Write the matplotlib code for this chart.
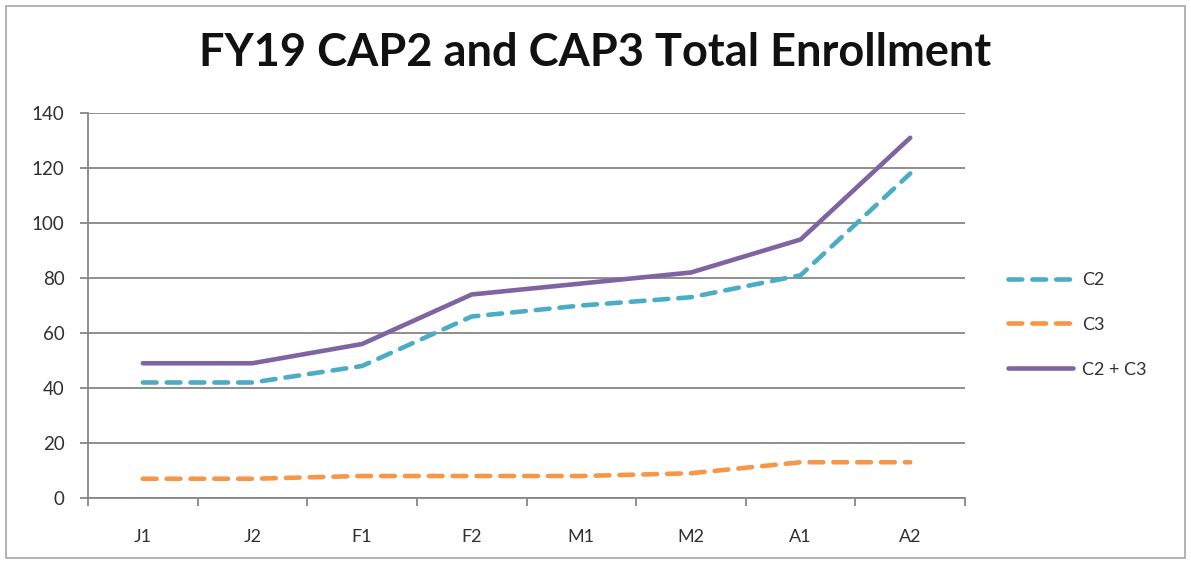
import matplotlib
matplotlib.use("Agg")
import matplotlib.pyplot as plt
from matplotlib.patches import Rectangle

categories = ["J1", "J2", "F1", "F2", "M1", "M2", "A1", "A2"]
c2 = [42, 42, 48, 66, 70, 73, 81, 118]
c3 = [7, 7, 8, 8, 8, 9, 13, 13]
c2c3 = [49, 49, 56, 74, 78, 82, 94, 131]
title = "FY19 CAP2 and CAP3 Total Enrollment"
yticks = [0, 20, 40, 60, 80, 100, 120, 140]

plt.rcParams['font.family'] = ['Lato', 'DejaVu Sans']

fig = plt.figure(figsize=(11.91, 5.61), dpi=100)
fig.patch.set_facecolor("white")
fig.patches.append(Rectangle((0.005, 0.005), 0.99, 0.985, transform=fig.transFigure,
                             fill=False, edgecolor="#a6a6a6", linewidth=1.2))

ax = fig.add_axes([0.0739, 0.1123, 0.7364, 0.6863])
x = list(range(len(categories)))
lw = 3.3
ax.plot(x, c2, color="#4BACC6", lw=lw, dashes=(3.0, 2.2), dash_capstyle="round", label="C2", zorder=3)
ax.plot(x, c3, color="#F79646", lw=lw, dashes=(3.0, 2.2), dash_capstyle="round", label="C3", zorder=3)
ax.plot(x, c2c3, color="#8064A2", lw=lw, solid_capstyle="round", label="C2 + C3", zorder=3)

ax.set_xlim(-0.5, len(categories) - 0.5)
ax.set_ylim(0, 140)
ax.set_yticks(yticks)
ax.set_xticks(x)
ax.set_xticklabels(categories)
ax.set_xticks([i - 0.5 for i in range(len(categories) + 1)], minor=True)
ax.tick_params(axis="x", which="major", length=0, labelsize=13, pad=22, colors="#303030")
ax.tick_params(axis="x", which="minor", length=6, width=1.3, color="#868686")
ax.tick_params(axis="y", length=6, width=1.3, color="#868686", labelsize=13.5, labelcolor="#303030", pad=11)
ax.grid(axis="y", color="#868686", lw=1.3, zorder=1)
for s in ["top", "right"]:
    ax.spines[s].set_visible(False)
for s in ["left", "bottom"]:
    ax.spines[s].set_color("#868686")
    ax.spines[s].set_linewidth(1.3)

fig.text(0.5, 0.905, title, ha="center", va="center", fontsize=32.5, fontweight="bold", color="#111111")

leg = ax.legend(loc="center left", bbox_to_anchor=(1.03, 0.45), frameon=False, fontsize=13,
                handlelength=3.6, labelspacing=1.6, handletextpad=0.5)
for t in leg.get_texts():
    t.set_color("#303030")

fig.savefig("out.png", dpi=100)
